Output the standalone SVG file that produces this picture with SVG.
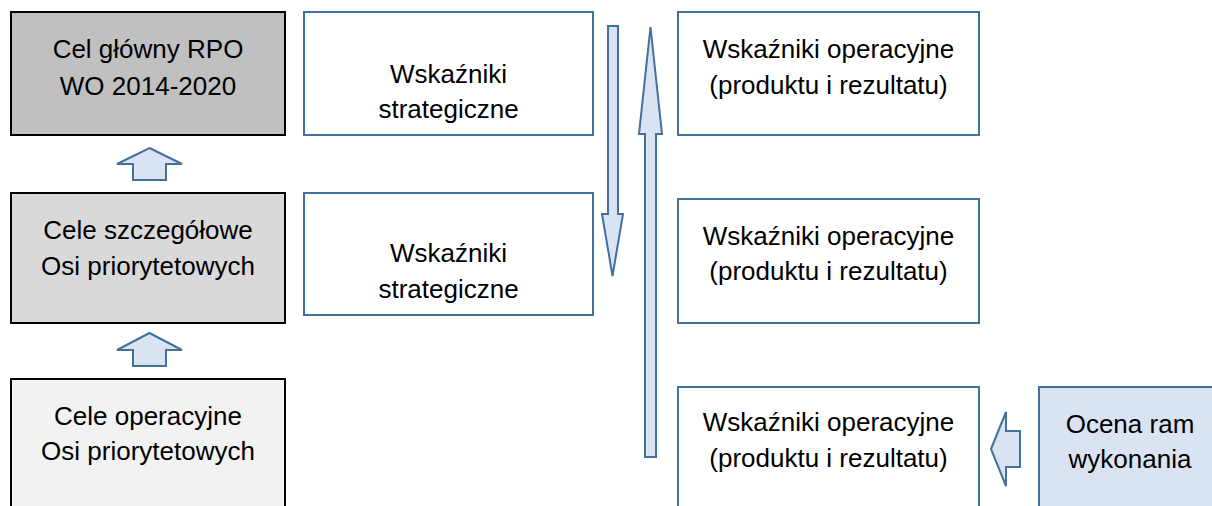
<svg xmlns="http://www.w3.org/2000/svg" width="1212" height="506" viewBox="0 0 1212 506">
<style>
  .t { font-family: "Liberation Sans", Arial, sans-serif; font-size: 26px; fill: #000; text-anchor: middle; }
  .blk { stroke: #000; stroke-width: 2; }
  .blu { fill: #fff; stroke: #41719C; stroke-width: 2; }
  .arr { fill: #DAE3F3; stroke: #41719C; stroke-width: 2; stroke-linejoin: miter; }
</style>
<rect width="1212" height="506" fill="#fff"/>
<g id="cel-glowny">
  <rect x="11" y="12" width="274" height="123" fill="#C0C0C0" class="blk"/>
  <text class="t" x="148" y="58">Cel główny RPO</text>
  <text class="t" x="148" y="95">WO 2014-2020</text>
</g>
<g id="cele-szczegolowe">
  <rect x="11" y="193" width="274" height="130" fill="#D9D9D9" class="blk"/>
  <text class="t" x="148" y="239">Cele szczegółowe</text>
  <text class="t" x="148" y="275">Osi priorytetowych</text>
</g>
<g id="cele-operacyjne">
  <rect x="11" y="379" width="274" height="140" fill="#F2F2F2" class="blk"/>
  <text class="t" x="148" y="425">Cele operacyjne</text>
  <text class="t" x="148" y="460">Osi priorytetowych</text>
</g>
<g id="wskazniki-strategiczne-1">
  <rect x="304" y="12" width="289" height="123" class="blu"/>
  <text class="t" x="448.5" y="83">Wskaźniki</text>
  <text class="t" x="448.5" y="118">strategiczne</text>
</g>
<g id="wskazniki-strategiczne-2">
  <rect x="304" y="193" width="289" height="122" class="blu"/>
  <text class="t" x="448.5" y="262">Wskaźniki</text>
  <text class="t" x="448.5" y="298">strategiczne</text>
</g>
<g id="wskazniki-operacyjne-1">
  <rect x="678" y="12" width="301" height="123" class="blu"/>
  <text class="t" x="828.5" y="58">Wskaźniki operacyjne</text>
  <text class="t" x="828.5" y="94">(produktu i rezultatu)</text>
</g>
<g id="wskazniki-operacyjne-2">
  <rect x="678" y="199" width="301" height="124" class="blu"/>
  <text class="t" x="828.5" y="245">Wskaźniki operacyjne</text>
  <text class="t" x="828.5" y="280">(produktu i rezultatu)</text>
</g>
<g id="wskazniki-operacyjne-3">
  <rect x="678" y="387" width="301" height="140" class="blu"/>
  <text class="t" x="828.5" y="431">Wskaźniki operacyjne</text>
  <text class="t" x="828.5" y="467">(produktu i rezultatu)</text>
</g>
<g id="ocena-ram">
  <rect x="1039" y="387" width="190" height="140" fill="#DAE3F3" stroke="#41719C" stroke-width="2"/>
  <text class="t" x="1130" y="433">Ocena ram</text>
  <text class="t" x="1130" y="468">wykonania</text>
</g>
<g id="connectors">
  <polygon class="arr" points="149.5,148 182,164 166,164 166,180 133,180 133,164 117,164"/>
  <polygon class="arr" points="149.5,333 182,350 166,350 166,366 133,366 133,350 117,350"/>
  <polygon class="arr" points="608,26 618,26 618,214 623,214 612.5,276 602,214 608,214"/>
  <polygon class="arr" points="650.5,27 662,134 656,134 656,457 645,457 645,134 639,134"/>
  <polygon class="arr" points="991,449 1006,412 1006,431 1020,431 1020,467 1006,467 1006,486"/>
</g>
</svg>
